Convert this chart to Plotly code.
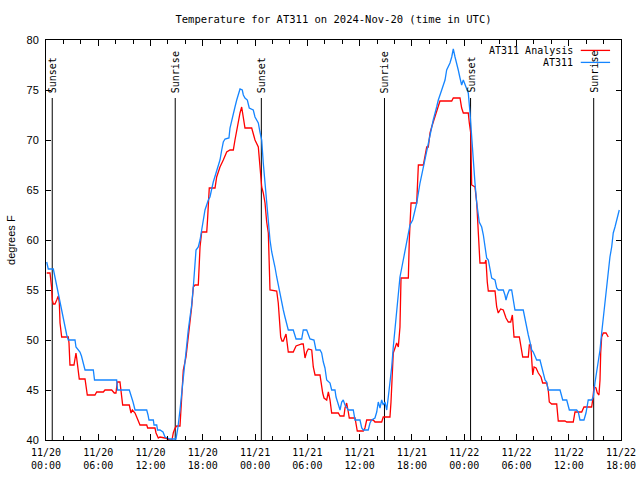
import pandas as pd
import plotly.graph_objects as go

START = pd.Timestamp("2024-11-20 00:00")

# Hours since 2024-11-20 00:00 UTC and temperatures (deg F)
obs_hours = [0.08, 0.26, 0.84, 1.03, 1.23, 1.41, 1.61, 1.80, 1.99, 2.18, 2.38, 2.56, 3.33, 3.44, 3.90, 4.07, 4.28, 4.48, 5.43, 5.57,
             8.11, 8.21, 9.56, 9.76, 9.99, 10.22, 11.56, 11.71, 11.82, 12.32, 12.40, 12.71, 12.80, 13.08, 13.43, 13.66, 14.23, 14.92,
             15.09, 15.15, 15.38, 15.58, 15.76, 15.95, 16.15, 16.33, 16.53, 16.72, 16.91, 17.02, 17.22, 17.48, 17.68, 17.87, 18.05,
             18.25, 18.63, 18.82, 19.20, 19.59, 19.97, 20.17, 20.35, 20.55, 21.00, 21.12, 21.31, 21.50, 21.69, 21.89, 22.07, 22.27,
             22.53, 22.65, 22.84, 23.11, 23.33, 23.79, 23.99, 24.18, 24.37, 24.56, 24.76, 24.94, 25.14, 25.33, 25.52, 25.71, 25.91,
             26.09, 26.28, 26.48, 26.66, 26.86, 27.05, 27.24, 27.43, 27.63, 27.81, 28.38, 28.70, 29.35, 29.53, 29.92, 30.30, 30.76,
             30.99, 31.45, 31.64, 31.83, 32.02, 32.22, 32.60, 32.79, 33.17, 33.29, 33.55, 33.75, 33.94, 34.12, 34.32, 34.51, 34.70,
             35.27, 35.47, 36.04, 36.24, 36.42, 36.99, 37.19, 37.38, 37.76, 37.96, 38.14, 38.34, 38.53, 38.71, 38.91, 39.11, 39.29,
             39.48, 39.68, 39.86, 40.06, 40.25, 40.44, 40.63, 40.83, 41.01, 41.21, 41.40, 41.59, 41.78, 42.09, 42.55, 42.93, 43.31,
             43.70, 44.08, 44.45, 44.84, 45.03, 45.42, 45.80, 45.99, 46.37, 46.57, 46.75, 46.95, 47.14, 47.32, 47.52, 47.71, 47.90,
             48.09, 48.29, 48.47, 48.67, 48.86, 49.05, 49.24, 49.44, 49.73, 50.01, 50.20, 50.39, 50.58, 50.77, 50.96, 51.16, 51.54,
             51.73, 51.91, 52.49, 52.68, 52.80, 52.95, 53.18, 53.45, 53.64, 53.83, 54.78, 54.98, 55.17, 55.36, 55.55, 55.75, 55.93,
             56.13, 56.32, 56.70, 56.90, 57.08, 57.28, 57.47, 57.65, 59.00, 59.31, 59.77, 59.95, 60.07, 60.91, 61.10, 61.29, 61.75,
             61.98, 62.24, 62.63, 62.82, 63.01, 63.21, 63.39, 63.59, 63.78, 63.97, 64.16, 64.36, 64.54, 64.73, 64.93, 65.11, 65.31,
             65.50, 65.80]
obs_temp = [57.8, 57.1, 57.1, 56.3, 55.5, 54.7, 53.8, 53.0, 52.0, 51.3, 50.5, 50.0, 50.0, 49.3, 48.8, 48.4, 47.7, 47.0, 47.0, 46.0,
            46.0, 45.0, 45.0, 44.3, 43.8, 43.0, 43.0, 42.5, 42.0, 42.0, 41.5, 41.5, 41.0, 41.0, 40.8, 40.3, 40.1, 40.1,
            40.8, 41.3, 43.0, 44.7, 46.7, 48.3, 49.7, 51.0, 52.3, 53.5, 55.3, 56.7, 59.0, 59.3, 60.0, 61.0, 62.0,
            63.0, 64.0, 64.3, 65.8, 67.0, 68.0, 69.0, 69.8, 70.1, 70.2, 71.2, 72.0, 72.7, 73.3, 74.0, 74.5, 75.1,
            75.0, 74.5, 74.2, 74.0, 73.2, 73.0, 72.3, 72.0, 71.7, 70.8, 70.0, 67.7, 65.7, 63.7, 61.8, 60.0, 58.8,
            58.2, 57.3, 56.3, 55.5, 54.3, 53.7, 53.0, 52.3, 51.7, 51.0, 51.0, 50.1, 50.1, 51.0, 51.0, 50.1, 50.0,
            49.0, 49.0, 48.7, 47.8, 47.2, 46.0, 45.7, 45.0, 45.0, 44.3, 43.5, 43.0, 43.8, 44.0, 43.5, 43.2, 43.0,
            43.0, 42.0, 42.0, 41.2, 41.0, 41.0, 41.7, 42.0, 42.2, 42.8, 43.8, 43.2, 44.0, 43.5, 43.8, 43.0, 44.3,
            45.7, 47.3, 49.3, 51.0, 52.7, 54.5, 56.3, 57.2, 58.0, 58.7, 59.8, 60.5, 61.5, 62.0, 63.7, 65.7, 67.3,
            68.7, 70.3, 72.0, 73.3, 74.0, 75.0, 76.0, 77.0, 77.7, 78.3, 79.1, 78.3, 77.7, 77.0, 76.2, 75.5, 76.0,
            75.5, 75.0, 74.7, 72.7, 70.7, 68.0, 65.7, 63.7, 61.8, 61.3, 60.5, 59.3, 58.2, 58.0, 57.2, 56.2, 56.0,
            55.2, 55.0, 55.0, 54.5, 54.0, 54.5, 55.0, 55.0, 54.0, 53.0, 53.0, 52.0, 51.3, 50.5, 49.8, 49.0, 48.8,
            48.3, 48.0, 48.0, 47.3, 46.7, 46.0, 45.8, 45.0, 45.0, 44.0, 44.0, 43.5, 43.0, 43.0, 42.8, 42.0, 42.0,
            42.7, 44.0, 44.0, 44.3, 45.7, 46.7, 48.0, 49.0, 50.7, 52.3, 53.7, 55.3, 56.7, 58.3, 59.3, 60.7, 61.3,
            62.0, 63.0]

ana_hours = [0.08, 0.46, 0.65, 0.72, 0.84, 1.03, 1.23, 1.41, 1.53, 1.61, 1.80, 2.56, 2.64, 2.67, 2.75, 3.21, 3.33, 3.44, 3.52, 3.64,
             3.71, 3.82, 4.48, 4.59, 4.74, 5.62, 5.82, 6.58, 6.77, 7.54, 7.84, 8.03, 8.18, 8.49, 8.57, 8.80, 9.56, 9.64, 9.76,
             9.91, 10.22, 10.41, 10.79, 11.56, 11.67, 12.51, 12.63, 12.89, 13.08, 13.66, 14.23, 14.46, 14.61, 14.81, 15.00, 15.38,
             15.58, 15.69, 15.76, 16.07, 16.33, 16.53, 16.72, 16.91, 17.10, 17.48, 17.60, 17.68, 17.87, 18.45, 18.54, 18.63, 18.74,
             19.40, 19.59, 19.78, 19.97, 20.35, 20.74, 21.12, 21.50, 21.69, 21.89, 22.07, 22.27, 22.46, 22.65, 22.84, 23.61, 23.79,
             23.99, 24.37, 24.56, 24.68, 24.76, 24.94, 25.14, 25.33, 25.52, 25.71, 26.48, 26.66, 26.78, 26.94, 27.09, 27.24, 27.55,
             27.81, 28.38, 28.70, 29.35, 29.53, 29.73, 29.92, 30.11, 30.50, 30.68, 30.88, 31.45, 31.64, 31.76, 31.91, 32.22, 32.41,
             32.60, 32.79, 33.55, 33.75, 34.20, 34.32, 34.51, 34.70, 34.81, 35.47, 35.66, 35.73, 36.42, 36.61, 36.81, 37.57, 37.76,
             38.53, 38.71, 39.48, 39.60, 39.79, 39.86, 40.06, 40.25, 40.44, 40.63, 40.75, 41.59, 41.70, 41.78, 41.90, 42.55, 42.74,
             43.31, 43.50, 43.70, 43.88, 44.08, 44.27, 44.65, 45.03, 45.22, 46.57, 46.75, 47.52, 47.71, 47.90, 48.47, 48.59, 48.75,
             48.86, 49.24, 49.44, 49.62, 49.81, 50.39, 50.50, 50.65, 50.77, 51.54, 51.73, 51.91, 52.19, 52.49, 52.80, 53.07, 53.34,
             53.53, 53.72, 54.33, 54.49, 54.72, 55.36, 55.48, 55.64, 55.75, 55.87, 56.02, 56.25, 56.51, 56.82, 57.01, 57.47, 57.65,
             57.77, 58.04, 58.62, 58.80, 59.57, 59.77, 60.52, 60.72, 61.49, 61.75, 62.63, 62.75, 62.90, 63.13, 63.28, 63.47, 63.59,
             63.67, 63.78, 63.97, 64.28, 64.54]
ana_temp = [56.7, 56.7, 55.2, 54.0, 53.6, 53.6, 54.0, 54.4, 53.7, 51.7, 50.3, 50.3, 49.7, 48.3, 47.5, 47.5, 48.0, 48.7, 48.2, 47.5,
            46.7, 46.1, 46.1, 45.5, 44.5, 44.5, 44.8, 44.8, 45.0, 45.0, 44.7, 44.7, 45.8, 45.8, 45.0, 43.5, 43.5, 43.2, 42.7,
            43.0, 42.7, 42.3, 41.5, 41.5, 41.2, 41.2, 40.7, 40.2, 40.3, 40.2, 40.0, 40.0, 40.7, 41.2, 41.4, 41.4,
            44.7, 45.3, 47.0, 48.3, 50.3, 51.7, 53.3, 55.3, 55.5, 55.5, 58.0, 59.3, 60.8, 60.8, 62.0, 64.0, 65.2,
            65.2, 66.3, 66.8, 67.3, 68.0, 68.8, 69.0, 69.0, 70.0, 71.0, 71.8, 72.7, 73.3, 72.3, 71.2, 71.2, 70.7,
            70.0, 69.3, 67.3, 66.7, 65.3, 64.7, 63.7, 61.8, 60.7, 55.0, 54.9, 53.7, 51.7, 50.3, 49.9, 49.9, 50.6,
            48.8, 48.8, 49.4, 49.6, 49.6, 48.2, 48.8, 49.1, 49.0, 47.3, 46.5, 46.5, 45.3, 44.7, 44.2, 44.0, 44.8,
            44.0, 42.7, 42.7, 42.4, 42.4, 43.2, 43.7, 42.8, 42.2, 42.2, 41.3, 40.9, 40.9, 41.2, 42.0, 42.0, 41.8,
            41.8, 42.3, 42.3, 43.8, 47.3, 48.7, 49.2, 49.7, 49.3, 51.3, 56.2, 56.2, 60.0, 62.0, 63.7, 63.7, 67.5,
            67.5, 68.3, 69.3, 69.3, 70.7, 71.3, 72.3, 73.3, 73.9, 73.9, 74.2, 74.2, 73.2, 72.7, 72.7, 71.7, 70.7,
            65.5, 65.3, 63.7, 61.0, 57.7, 57.7, 58.0, 55.8, 54.9, 54.9, 53.3, 52.7, 53.1, 53.0, 52.2, 51.8, 51.8,
            52.5, 50.3, 50.3, 49.3, 48.3, 48.3, 49.5, 49.5, 47.3, 46.5, 47.3, 47.2, 46.7, 46.3, 45.7, 45.7, 45.0,
            43.8, 43.6, 43.6, 41.9, 41.9, 41.8, 41.8, 42.8, 42.8, 43.3, 43.3, 44.0, 45.3, 45.2, 44.7, 44.5, 46.0,
            48.7, 50.3, 50.7, 50.7, 50.3]

sun_events = ["2024-11-20 00:43", "2024-11-20 14:50", "2024-11-21 00:43",
              "2024-11-21 14:51", "2024-11-22 00:44", "2024-11-22 14:52"]
sun_labels = ["Sunset", "Sunrise", "Sunset", "Sunrise", "Sunset", "Sunrise"]

series_names = ["AT311 Analysis", "AT311"]
series_colors = ["#FF0000", "#1585FF"]

y_ticks = [40, 45, 50, 55, 60, 65, 70, 75, 80]
x_tick_times = pd.date_range("2024-11-20 00:00", "2024-11-22 18:00", freq="6h")
x_tick_text = [t.strftime("%m/%d") + "<br>" + t.strftime("%H:%M") for t in x_tick_times]

def to_time(hours):
    return [START + pd.Timedelta(hours=h) for h in hours]

MONO = "DejaVu Sans Mono"
SANS = "Liberation Sans"

W, H = 640, 480

fig = go.Figure()
fig.add_trace(go.Scatter(x=to_time(ana_hours), y=ana_temp, mode="lines", name=series_names[0],
                         line=dict(color=series_colors[0], width=1.3), showlegend=False, hoverinfo="skip"))
fig.add_trace(go.Scatter(x=to_time(obs_hours), y=obs_temp, mode="lines", name=series_names[1],
                         line=dict(color=series_colors[1], width=1.3), showlegend=False, hoverinfo="skip"))

for t, lab in zip(sun_events, sun_labels):
    fig.add_shape(type="line", xref="x", yref="y", x0=t, x1=t, y0=40, y1=74.2,
                  line=dict(color="black", width=1), layer="below")
    fig.add_annotation(x=t, y=74.8, xref="x", yref="y", text=lab, showarrow=False,
                       textangle=-90, xanchor="center", yanchor="bottom", yshift=-3,
                       font=dict(family=MONO, size=10, color="black"))

# custom legend (text left of sample line)
leg_y = [0.974, 0.944]
for i, (nm, col) in enumerate(zip(series_names, series_colors)):
    fig.add_annotation(x=0.920, y=leg_y[i], xref="paper", yref="paper", text=nm, showarrow=False,
                       xanchor="right", yanchor="middle", font=dict(family=MONO, size=10, color="black"))
    fig.add_shape(type="line", xref="paper", yref="paper", x0=0.930, x1=0.981, y0=leg_y[i], y1=leg_y[i],
                  line=dict(color=col, width=1.3))

fig.add_annotation(x=-0.061, y=0.5, xref="paper", yref="paper", text="degrees F", showarrow=False,
                   textangle=-90, xanchor="center", yanchor="middle", borderpad=0,
                   font=dict(family=SANS, size=11, color="black"))

fig.update_layout(
    width=W, height=H,
    margin=dict(l=46, r=19, t=40, b=40, autoexpand=False),
    paper_bgcolor="white", plot_bgcolor="white",
    title=dict(text="Temperature for AT311 on 2024-Nov-20 (time in UTC)", x=333.5 / W,
               xanchor="center", y=1 - 19 / H, yanchor="middle",
               font=dict(family=MONO, size=10.5, color="black")),
    showlegend=False,
    hovermode=False,
)
fig.update_xaxes(
    type="date", range=[x_tick_times[0], x_tick_times[-1]], automargin=False,
    tickvals=list(x_tick_times), ticktext=x_tick_text,
    ticks="inside", ticklen=6, tickcolor="black", tickwidth=1,
    minor=dict(dtick=2 * 3600 * 1000, ticks="inside", ticklen=4, tickcolor="black", showgrid=False),
    showline=True, linecolor="black", linewidth=1, mirror="allticks", showgrid=False, zeroline=False,
    tickfont=dict(family=MONO, size=10, color="black"), ticklabelstandoff=3,
)
fig.update_yaxes(
    range=[40, 80], tickvals=y_ticks, automargin=False,
    ticks="inside", ticklen=5, tickcolor="black", tickwidth=1,
    showline=True, linecolor="black", linewidth=1, mirror="allticks", showgrid=False, zeroline=False,
    tickfont=dict(family=SANS, size=11, color="black"), ticklabelstandoff=4,
)

fig.write_html("out.html", config={"displayModeBar": False, "staticPlot": True},
               post_script="document.body.style.margin='0';document.body.style.overflow='hidden';")
